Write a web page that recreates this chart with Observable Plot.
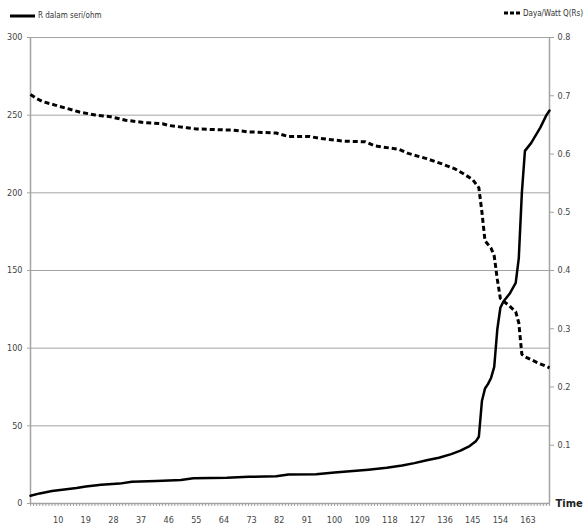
<!DOCTYPE html>
<html>
<head>
<meta charset="utf-8">
<script src="https://cdn.jsdelivr.net/npm/d3@7"></script>
<script src="https://cdn.jsdelivr.net/npm/@observablehq/plot@0.6"></script>
<style>
  body { margin: 0; background: #fff; }
  #wrap { position: relative; width: 584px; height: 530px; font-family: "Liberation Sans Narrow", "DejaVu Sans Condensed", sans-serif; }
  .key { position: absolute; top: 9px; font-size: 8px; color: #333; display: flex; align-items: center; gap: 2px; white-space: nowrap; }
  #chart { position: absolute; left: 0; top: 0; }
</style>
</head>
<body>
<div id="wrap">
  <div id="chart"></div>
  <div class="key" style="left:10px">
    <svg width="26" height="12"><line x1="0" y1="7" x2="25" y2="7" stroke="#000" stroke-width="3"/></svg>
    <span>R dalam seri/ohm</span>
  </div>
  <div class="key" style="left:504px;top:7px">
    <svg width="17" height="12"><line x1="0" y1="6" x2="16" y2="6" stroke="#000" stroke-width="3" stroke-dasharray="4,2"/></svg>
    <span>Daya/Watt Q(Rs)</span>
  </div>
</div>
<script>
// Series resistance (left axis, ohm)
const timeR = [1, 4, 8, 12, 16, 19, 24, 30, 34, 42, 50, 54, 65, 72, 81, 85, 94, 100, 106, 111, 117, 122, 126, 130, 134, 138, 141, 144, 146, 147, 148, 149, 150, 151, 152, 153, 154, 155, 157, 159, 160, 161, 162, 164, 167, 169, 170];
const valueR = [5, 6.5, 8, 9, 10, 11, 12, 12.8, 14, 14.5, 15.2, 16.3, 16.5, 17.2, 17.5, 18.6, 18.8, 20, 21, 21.8, 23, 24.5, 26, 27.8, 29.5, 31.8, 34, 37, 40, 43, 66, 74, 77, 81, 88, 112, 126, 130, 135, 142, 158, 200, 227, 232, 242, 250, 253];

// Power (right axis, watt)
const timeP = [1, 3, 5, 9, 13, 17, 22, 27, 32, 38, 44, 46, 52, 55, 67, 72, 81, 85, 92, 95, 103, 110, 113, 121, 124, 130, 135, 139, 142, 145, 147, 148, 149, 151, 152, 153, 154, 157, 159, 160, 161, 162, 166, 170];
const valueP = [0.702, 0.695, 0.690, 0.684, 0.678, 0.672, 0.667, 0.664, 0.658, 0.654, 0.652, 0.649, 0.645, 0.643, 0.641, 0.638, 0.636, 0.630, 0.630, 0.627, 0.622, 0.621, 0.614, 0.608, 0.601, 0.592, 0.583, 0.575, 0.566, 0.556, 0.542, 0.500, 0.451, 0.438, 0.425, 0.385, 0.352, 0.339, 0.329, 0.310, 0.256, 0.252, 0.242, 0.233];

// Axis ticks
const rTicks = [0, 50, 100, 150, 200, 250, 300];
const pTicks = [0.1, 0.2, 0.3, 0.4, 0.5, 0.6, 0.7, 0.8];
const timeLabels = [10, 19, 28, 37, 46, 55, 64, 73, 82, 91, 100, 109, 118, 127, 136, 145, 154, 163];
const timeCount = 170;

// Both series share one y scale; power is mapped onto the ohm range
const K = 300 / 0.8;
const rData = timeR.map((t, i) => ({t, v: valueR[i]}));
const pData = timeP.map((t, i) => ({t, v: valueP[i] * K}));

const grid = "#a3a3a3";
const chart = Plot.plot({
  width: 584,
  height: 530,
  marginLeft: 30,
  marginRight: 35,
  marginTop: 37,
  marginBottom: 27,
  style: {fontFamily: '"Liberation Sans Narrow", "DejaVu Sans Condensed", sans-serif', fontSize: "9px", color: "#444", background: "white"},
  x: {domain: [1, timeCount]},
  y: {domain: [0, 300]},
  marks: [
    Plot.ruleY(rTicks.filter(d => d > 0), {stroke: grid, strokeWidth: 1}),
    Plot.ruleX([1, timeCount], {stroke: grid, strokeWidth: 1.5}),
    Plot.ruleY([0], {stroke: grid, strokeWidth: 1.5}),
    Plot.axisY({ticks: rTicks, tickSize: 3, tickPadding: 5, label: null, stroke: grid, fill: "#444"}),
    Plot.axisY({anchor: "right", ticks: pTicks.map(p => p * K), tickFormat: v => d3.format(".1f")(v / K), tickSize: 4, tickPadding: 4, label: null, stroke: grid, fill: "#444"}),
    Plot.axisX({ticks: d3.range(1, timeCount + 1), tickSize: 3, tickFormat: () => "", label: null, stroke: grid}),
    Plot.axisX({ticks: timeLabels, tickSize: 0, tickPadding: 13, label: null, fill: "#444"}),
    Plot.line(pData, {x: "t", y: "v", stroke: "#000", strokeWidth: 3, strokeDasharray: "5,3", strokeLinecap: "butt", strokeLinejoin: "miter"}),
    Plot.line(rData, {x: "t", y: "v", stroke: "#000", strokeWidth: 2.5}),
    Plot.text(["Time"], {x: timeCount, y: 0, dx: 6, textAnchor: "start", fontWeight: "bold", fontSize: 11, fill: "#222"})
  ]
});
document.getElementById("chart").append(chart);
</script>
</body>
</html>
